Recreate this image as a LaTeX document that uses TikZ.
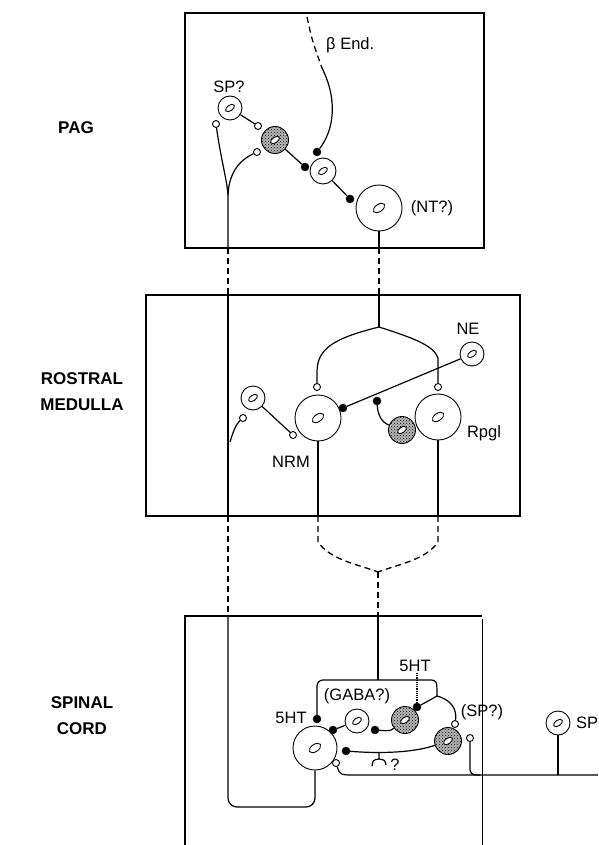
\documentclass[tikz,border=0pt]{standalone}
\usepackage{fontspec}
\setmainfont{Liberation Sans}
\usetikzlibrary{calc,positioning,patterns}

\tikzset{
  cell/.style={shape=circle,draw,line width=0.9pt,minimum size=#1,inner sep=0pt},
  cell/.default=26pt,
  grain/.style={cell=#1,preaction={fill=black!28},pattern=crosshatch dots,pattern color=black},
  grain/.default=27pt,
  ob/.style={shape=circle,draw,fill=white,line width=0.9pt,minimum size=7pt,inner sep=0pt},
  fb/.style={shape=circle,draw,fill=black,minimum size=8pt,inner sep=0pt},
  region/.style={line width=1.9pt},
  fibre/.style={line width=1.2pt},
  gap/.style={line width=1.3pt,dash pattern=on 6pt off 4pt},
  tag/.style={font=\fontsize{16.5}{16.5}\selectfont,inner sep=1pt},
  area/.style={font=\bfseries\fontsize{17}{26}\selectfont,align=center},
  nuc/.pic={\draw[line width=0.9pt,fill=white,rotate=35] (0,0) ellipse (5 and 2.8);}
}

\begin{document}
\begin{tikzpicture}[x=1pt,y=-1pt]
  \useasboundingbox (0,0) rectangle (598,845);

  % level names
  \node[area] (pag) at (76,128) {PAG};
  \node[area] (rmed) at (82,392) {ROSTRAL\\MEDULLA};
  \node[area] (scord) at (82,716) {SPINAL\\CORD};

  % PAG
  \draw[region] (185,13) rectangle (484,248);
  \node[cell=24pt] (sp) at (230,108) {}; \pic at (sp) {nuc};
  \node[tag] (spl) at (229,87) {SP?};
  \node[grain] (pg) at (275,140) {}; \pic at (pg) {nuc};
  \node[cell] (enk) at (323,171) {}; \pic at (enk) {nuc};
  \node[cell=46pt] (nt) at (379,208) {}; \pic[scale=1.3] at (nt) {nuc};
  \node[tag] (ntl) at (432,208) {(NT?)};
  \node[ob] (o1) at (216,124) {};
  \node[ob] (o2) at (258,126) {};
  \node[ob] (o3) at (257,152) {};
  \node[fb] (f1) at (305,167) {};
  \node[fb] (f2) at (317,152) {};
  \node[fb] (f3) at (350,199) {};
  \coordinate (br) at (228,195);
  \coordinate (pagl) at (228,248);
  \coordinate (pagr) at (379,248);
  \draw[fibre] (sp) -- (o2);
  \draw[fibre] (pg) -- (f1);
  \draw[fibre] (enk) -- (f3);
  \draw[fibre] (o1) .. controls (221,160) and (227,180) .. (br) -- (pagl);
  \draw[fibre] (br) .. controls (229,172) and (240,160) .. (o3);
  \draw[gap] (307,17) .. controls (312,40) .. (322,68);
  \draw[fibre] (322,68) .. controls (338,100) and (334,130) .. (f2);
  \node[tag,anchor=west,inner sep=0pt] (bend) at (326,45) {β End.};
  \draw[fibre] (nt) -- (pagr);
  \draw[gap] (pagl) -- (228,295);
  \draw[gap] (pagr) -- (379,295);

  % rostral medulla
  \draw[region] (146,295) rectangle (520,516);
  \draw[line width=2.6pt] (228,295) -- (228,516);
  \coordinate (bm) at (379,327);
  \node[ob] (o4) at (317,387) {};
  \node[ob] (o5) at (438,387) {};
  \draw[fibre] (379,295) -- (bm);
  \draw[fibre] (bm) .. controls (335,338) and (317,348) .. (317,372) -- (o4);
  \draw[fibre] (bm) .. controls (410,337) and (434,345) .. (438,358) -- (o5);
  \node[cell=24pt] (ne) at (472,354) {}; \pic at (ne) {nuc};
  \node[tag] (nel) at (468,329) {NE};
  \node[cell=46pt] (nrm) at (318,418) {}; \pic[scale=1.3] at (nrm) {nuc};
  \node[tag] (nrml) at (291,462) {NRM};
  \node[cell=46pt] (rpg) at (438,417) {}; \pic[scale=1.3] at (rpg) {nuc};
  \node[tag] (rpgl) at (484,433) {Rpgl};
  \node[fb] (f4) at (343,408) {};
  \draw[fibre] (ne) -- (f4);
  \node[grain] (gm) at (402,430) {}; \pic at (gm) {nuc};
  \node[fb] (f5) at (377,401) {};
  \draw[fibre] (f5) .. controls (378,420) and (386,424) .. (gm);
  \node[cell=24pt] (lc) at (253,398) {}; \pic at (lc) {nuc};
  \node[ob] (o6) at (293,435) {};
  \draw[fibre] (lc) -- (o6);
  \node[ob] (o7) at (243,418) {};
  \draw[fibre] (o7) .. controls (236,424) and (233,432) .. (230,442);
  \coordinate (nrmb) at (318,516);
  \coordinate (rpgb) at (438,516);
  \coordinate (meet) at (378,572);
  \draw[fibre] (nrm) -- (nrmb);
  \draw[fibre] (rpg) -- (rpgb);
  \draw[gap] (nrmb) -- (318,542) .. controls (330,560) and (360,565) .. (meet);
  \draw[gap] (rpgb) -- (438,542) .. controls (426,560) and (396,565) .. (meet);
  \draw[gap] (meet) -- (378,616);
  \draw[gap] (228,516) -- (228,616);

  % spinal cord
  \draw[region] (185,845) -- (185,616) -- (482,616);
  \draw[line width=0.9pt] (482,619) -- (482,845);
  \node[cell=44pt] (ht) at (315,748) {}; \pic[scale=1.3] at (ht) {nuc};
  \node[tag] (htl) at (291,718) {5HT};
  \draw[fibre,rounded corners=9pt] (228,616) -- (228,807) -- (315,807) -- (ht);
  \coordinate (sj) at (378,680);
  \coordinate (sk) at (437,696);
  \draw[fibre] (378,616) -- (sj);
  \node[fb] (f6) at (317,719) {};
  \draw[fibre,rounded corners=6pt] (sj) -- (317,680) -- (f6);
  \draw[fibre] (sj) -- (428,680) .. controls (437,680) .. (sk);
  \node[tag] (htr) at (415,666) {5HT};
  \node[grain] (s1) at (405,720) {}; \pic at (s1) {nuc};
  \node[fb] (f7) at (417,707) {};
  \draw[fibre,densely dotted] (htr.south -| f7) -- (f7);
  \draw[fibre] (sk) .. controls (430,700) .. (f7);
  \node[grain] (s2) at (448,741) {}; \pic at (s2) {nuc};
  \node[ob] (o8) at (455,724) {};
  \draw[fibre] (sk) .. controls (452,700) and (457,710) .. (o8);
  \node[tag] (spq) at (482,712) {(SP?)};
  \node[tag] (gabl) at (357,696) {(GABA?)};
  \node[cell=24pt] (ga) at (357,721) {}; \pic at (ga) {nuc};
  \node[fb] (f8) at (333,730) {};
  \draw[fibre] (ga) -- (f8);
  \node[fb] (f9) at (375,730) {};
  \draw[fibre] (s1) .. controls (390,731) .. (f9);
  \node[fb] (f10) at (346,751) {};
  \draw[fibre] (s2) .. controls (415,752) and (385,754) .. (f10);
  \draw[fibre] (379,753) -- (379,759)
    (372,766) .. controls (373,760) .. (379,759) .. controls (385,760) .. (386,765);
  \node[tag] (qm) at (395,765) {?};
  \node[ob] (o9) at (336,763) {};
  \coordinate (ln) at (598,775);
  \draw[fibre] (o9) .. controls (340,775) .. (356,775) -- (ln);
  \node[ob] (o10) at (470,738) {};
  \draw[fibre,rounded corners=5pt] (o10) -- (470,775) -- (480,775);
  \node[cell=24pt] (spr) at (558,723) {}; \pic at (spr) {nuc};
  \draw[fibre] (spr) -- (558,775);
  \node[tag,anchor=west,inner sep=0pt] (sprl) at (576,723) {SP};
\end{tikzpicture}
\end{document}
